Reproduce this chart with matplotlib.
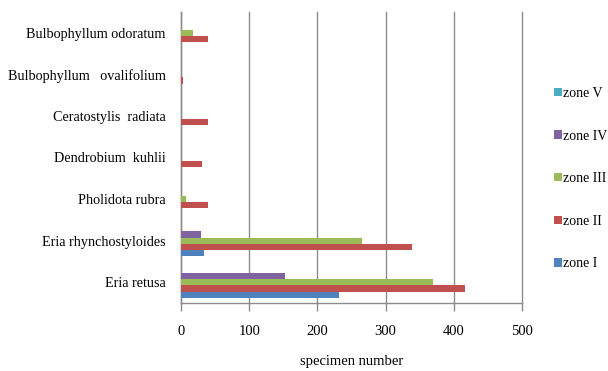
import matplotlib
matplotlib.use("Agg")
import matplotlib.pyplot as plt
import numpy as np

species = [
    "Eria retusa",
    "Eria rhynchostyloides",
    "Pholidota rubra",
    "Dendrobium  kuhlii",
    "Ceratostylis  radiata",
    "Bulbophyllum   ovalifolium",
    "Bulbophyllum odoratum",
]
zone_names = ["zone I", "zone II", "zone III", "zone IV", "zone V"]
zone_1 = [231, 34, 0, 0, 0, 0, 0]
zone_2 = [416, 339, 39, 31, 39, 3, 39]
zone_3 = [369, 266, 7, 0, 0, 0, 18]
zone_4 = [153, 30, 0, 0, 0, 0, 0]
zone_5 = [0, 0, 0, 0, 0, 0, 0]
x_ticks = [0, 100, 200, 300, 400, 500]

zone_values = [zone_1, zone_2, zone_3, zone_4, zone_5]
zone_colors = ["#4F81BD", "#C0504D", "#9BBB59", "#8064A2", "#4BACC6"]

plt.rcParams["font.family"] = ["Liberation Serif", "DejaVu Serif"]

fig = plt.figure(figsize=(6.08, 3.71), dpi=100)
ax = fig.add_axes([181 / 608, 1 - 303 / 371, 341 / 608, 291 / 371])

y = np.arange(len(species))
bar_h = 0.149
bars = []
for i, (vals, col, name) in enumerate(zip(zone_values, zone_colors, zone_names)):
    b = ax.barh(y + (i - 2) * bar_h, vals, height=bar_h, color=col,
                edgecolor="none", label=name, zorder=3)
    bars.append(b)

ax.set_xlim(0, 500)
ax.set_ylim(-0.5, len(species) - 0.5)
ax.set_xticks(x_ticks)
ax.set_xticklabels([str(t) for t in x_ticks], fontsize=10.5)
ax.set_yticks(y)
ax.set_yticklabels(species, fontsize=10.2)
ax.tick_params(axis="y", length=0, pad=11)
ax.tick_params(axis="x", length=6, width=1.0, color="#8c8c8c", pad=10)

grid_col = "#8c8c8c"
ax.grid(axis="x", color=grid_col, linewidth=1.0, zorder=0)
for gl in ax.get_xgridlines():
    gl.set_clip_on(False)
ax.set_axisbelow(True)
for side in ["top", "right"]:
    ax.spines[side].set_visible(False)
for side in ["left", "bottom"]:
    ax.spines[side].set_color(grid_col)
    ax.spines[side].set_linewidth(1.0)

ax.set_xlabel("specimen number", fontsize=10.5, labelpad=12)

handles = [bars[i] for i in range(4, -1, -1)]
labels = [zone_names[i] for i in range(4, -1, -1)]
fig.legend(handles, labels, loc="upper left", bbox_to_anchor=(554 / 608, 1 - 87 / 371),
           frameon=False, fontsize=10, handlelength=0.55, handleheight=0.55,
           handletextpad=0.12, labelspacing=2.13, borderaxespad=0, borderpad=0)

fig.savefig("out.png", dpi=100)
